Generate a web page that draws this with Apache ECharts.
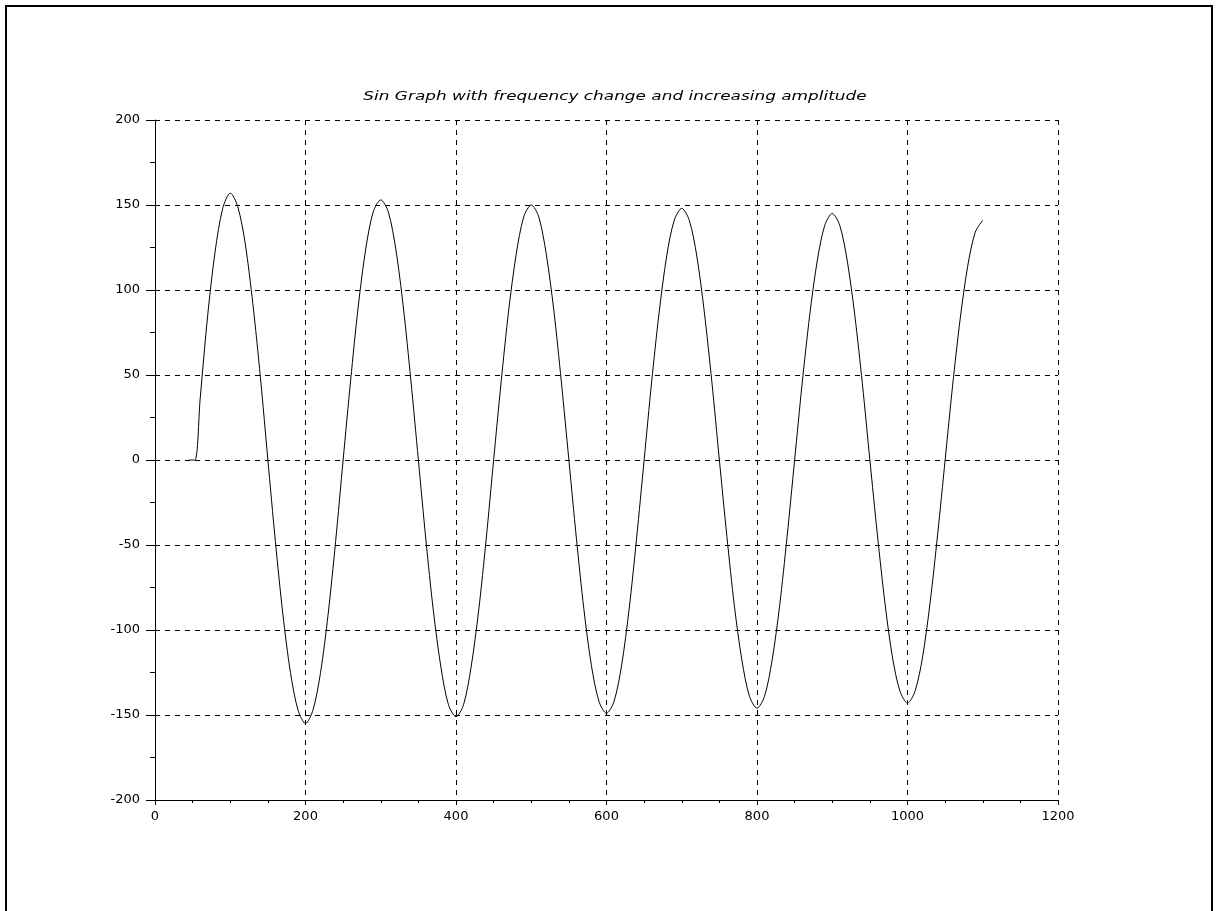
<!DOCTYPE html>
<html>
<head>
<meta charset="utf-8">
<script src="https://cdn.jsdelivr.net/npm/echarts@6/dist/echarts.min.js"></script>
<style>
html,body{margin:0;padding:0;background:#fff;}
#c{width:1221px;height:911px;}
</style>
</head>
<body>
<div id="c"></div>
<script>
const titleText = 'Sin Graph with frequency change and increasing amplitude';
const xTicks = [0, 200, 400, 600, 800, 1000, 1200];
const yTicks = [-200, -150, -100, -50, 0, 50, 100, 150, 200];

const xValues = [45, 53, 60, 70, 80, 90, 100, 110, 120, 130, 140, 150,
  160, 170, 180, 190, 200, 210, 220, 230, 240, 250,
  260, 270, 280, 290, 300, 310, 320, 330, 340, 350,
  360, 370, 380, 390, 400, 410, 420, 430, 440, 450,
  460, 470, 480, 490, 500, 510, 520, 530, 540, 550,
  560, 570, 580, 590, 600, 610, 620, 630, 640, 650,
  660, 670, 680, 690, 700, 710, 720, 730, 740, 750,
  760, 770, 780, 790, 800, 810, 820, 830, 840, 850,
  860, 870, 880, 890, 900, 910, 920, 930, 940, 950,
  960, 970, 980, 990, 1000, 1010, 1020, 1030, 1040, 1050,
  1060, 1070, 1080, 1090, 1100];
const yValues = [0, 0, 36, 85, 123, 148, 157, 149, 127, 92, 49, 0,
  -48, -91, -125, -147, -155, -147, -125, -91, -48, 0,
  47, 90, 124, 146, 153, 146, 124, 90, 47, 0,
  -47, -89, -122, -144, -151, -144, -122, -89, -47, 0,
  46, 88, 121, 143, 150, 143, 121, 88, 46, 0,
  -46, -88, -121, -142, -149, -142, -121, -88, -46, 0,
  46, 87, 120, 141, 148, 141, 120, 87, 46, 0,
  -45, -86, -118, -139, -146, -139, -118, -86, -45, 0,
  45, 85, 117, 138, 145, 138, 117, 85, 45, 0,
  -44, -84, -116, -136, -143, -136, -116, -84, -44, 0,
  44, 83, 114, 134, 141];

const points = xValues.map((x, i) => [x, yValues[i]]);

const chart = echarts.init(document.getElementById('c'), null, {renderer: 'canvas'});
const labelFont = {color: '#000', fontFamily: 'DejaVu Sans, Verdana, sans-serif', fontSize: 13};
chart.setOption({
  animation: false,
  backgroundColor: '#fff',
  graphic: [{
    type: 'rect', shape: {x: 6, y: 6, width: 1206, height: 920},
    style: {fill: 'none', stroke: '#000', lineWidth: 2}, silent: true
  }, {
    type: 'text', x: 615, y: 97, scaleX: 1.3, originX: 0, originY: 0, silent: true,
    style: {text: titleText, fill: '#000', fontStyle: 'italic', fontSize: 13,
      fontFamily: 'DejaVu Sans, Verdana, sans-serif', textAlign: 'center', textVerticalAlign: 'middle'}
  }],
  grid: {left: 155, right: 163, top: 120, bottom: 111, containLabel: false},
  xAxis: {
    type: 'value', min: xTicks[0], max: xTicks[xTicks.length - 1], interval: 200,
    axisLine: {show: true, onZero: false, lineStyle: {color: '#000', width: 1}},
    axisTick: {show: true, inside: false, length: 5, lineStyle: {color: '#000'}},
    minorTick: {show: true, splitNumber: 4, length: 3, lineStyle: {color: '#000'}},
    axisLabel: Object.assign({margin: 10, formatter: v => String(v)}, labelFont),
    splitLine: {show: true, lineStyle: {color: '#000', type: [5, 5], width: 1}}
  },
  yAxis: {
    type: 'value', min: yTicks[0], max: yTicks[yTicks.length - 1], interval: 50,
    axisLine: {show: true, onZero: false, lineStyle: {color: '#000', width: 1}},
    axisTick: {show: true, inside: false, length: 9, lineStyle: {color: '#000'}},
    minorTick: {show: true, splitNumber: 2, length: 5, lineStyle: {color: '#000'}},
    axisLabel: Object.assign({margin: 15, formatter: v => String(v)}, labelFont),
    splitLine: {show: true, lineStyle: {color: '#000', type: [5, 5], width: 1}}
  },
  series: [{
    type: 'line', data: points, showSymbol: false, smooth: 0.3,
    lineStyle: {color: '#000', width: 1}, z: 5
  }]
});
</script>
</body>
</html>
